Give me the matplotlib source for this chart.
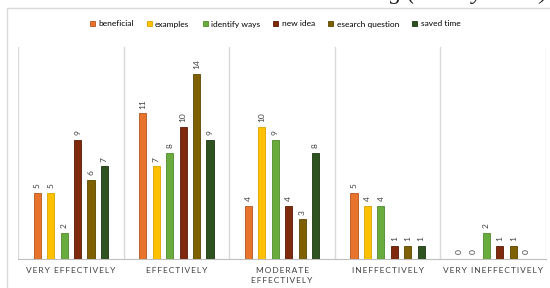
import matplotlib
matplotlib.use("Agg")
import matplotlib.pyplot as plt
import numpy as np
from matplotlib.patches import Rectangle

# data
categories = ["VERY EFFECTIVELY", "EFFECTIVELY", "MODERATE\nEFFECTIVELY",
              "INEFFECTIVELY", "VERY INEFFECTIVELY"]
series_names = ["beneficial", "examples", "identify ways", "new idea",
                "esearch question", "saved time"]
beneficial = [5, 11, 4, 5, 0]
examples = [5, 7, 10, 4, 0]
identify_ways = [2, 8, 9, 4, 2]
new_idea = [9, 10, 4, 1, 1]
esearch_question = [6, 14, 3, 1, 1]
saved_time = [7, 9, 8, 1, 0]

series = [beneficial, examples, identify_ways, new_idea, esearch_question, saved_time]
colors = ["#E8732C", "#FFC000", "#6AAB3E", "#7F2A0C", "#7F6000", "#2F5320"]
edges = ["#B4541A", "#D9A300", "#4E8A2B", "#5A1A05", "#5C4500", "#1C3612"]

plt.rcParams['font.family'] = ['Lato', 'DejaVu Sans']

fig = plt.figure(figsize=(5.5, 2.88), dpi=100)
ax = fig.add_axes([18 / 550, 29 / 288, 528 / 550, 212 / 288])

x = np.arange(len(categories))
step = 0.127
width = 0.068
for i, (name, vals) in enumerate(zip(series_names, series)):
    pos = x + (i - 2.5) * step
    ax.bar(pos, vals, width, color=colors[i], edgecolor=edges[i], linewidth=0.6,
           label=name, zorder=3)
    for px, v in zip(pos, vals):
        ax.text(px, v + 0.35, str(v), rotation=90, ha='center', va='bottom',
                fontsize=6, color='#404040')

ax.set_xlim(-0.5, len(categories) - 0.5)
ax.set_ylim(0, 16)
for b in np.arange(-0.5, len(categories), 1.0):
    ax.axvline(b, color='#D9D9D9', linewidth=1, zorder=1)

for s in ['top', 'right', 'left']:
    ax.spines[s].set_visible(False)
ax.spines['bottom'].set_color('#BFBFBF')
ax.set_yticks([])
ax.set_xticks(x)
spaced = ["\n".join("\u2009".join(line) for line in c.split("\n")) for c in categories]
ax.set_xticklabels(spaced, fontsize=6, color='#404040', linespacing=1.4)
ax.tick_params(axis='x', length=0, pad=6)

fig.legend(loc='center', bbox_to_anchor=(0.5, 1 - 24 / 288), ncol=6,
           fontsize=6, frameon=False, handlelength=0.6, handleheight=0.6,
           handletextpad=0.4, columnspacing=1.6)

# chart area border
fig.patches.append(Rectangle((7 / 550, -0.05), 1.0, 1 - 8 / 288 + 0.05,
                             transform=fig.transFigure, fill=False,
                             edgecolor='#D9D9D9', linewidth=1))

# heading above the chart, mostly cut off by the top edge
fig.text(548 / 550, 1 - 4 / 288, "Section 4 : Observational Learning (Family Level)",
         ha='right', va='bottom', fontsize=17, family='Liberation Serif',
         style='italic', color='#222222')

fig.savefig("out.png", dpi=100)
